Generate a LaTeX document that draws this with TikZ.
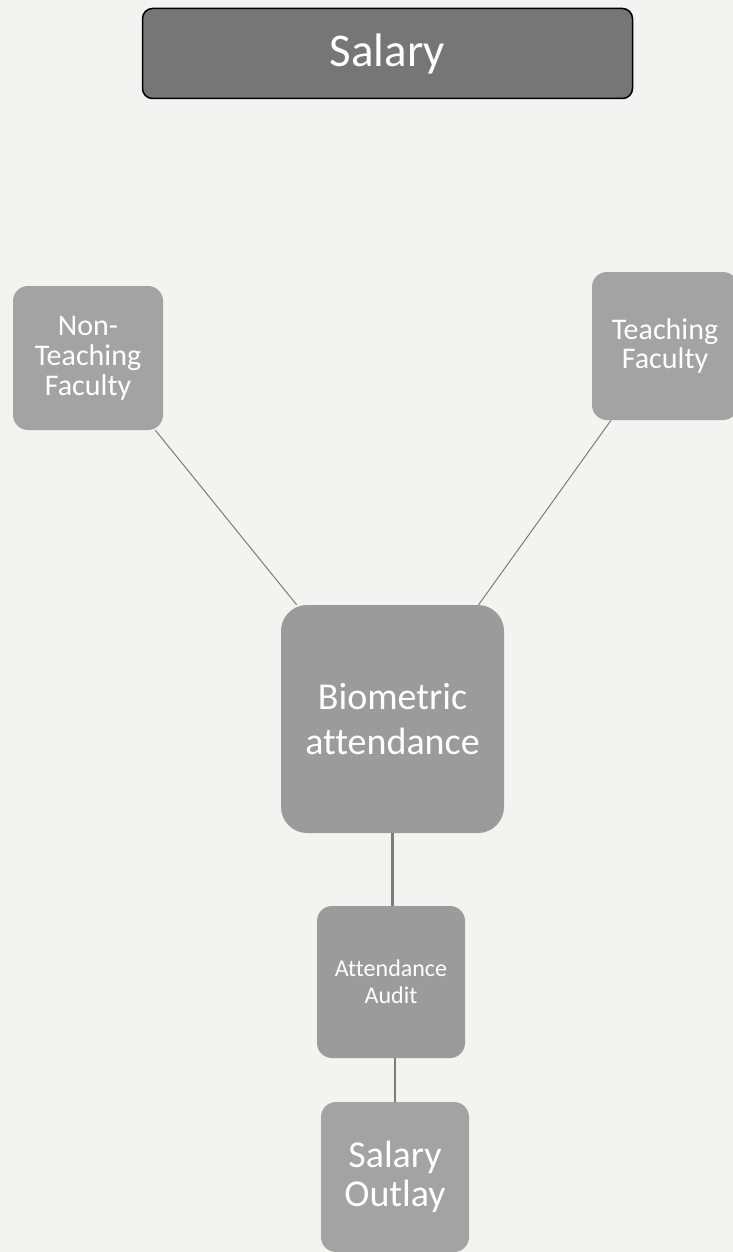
\documentclass[tikz,border=0pt]{standalone}
\usepackage{fontspec}
\setmainfont[Ligatures=NoCommon]{Carlito}
\usetikzlibrary{positioning}
\definecolor{paper}{HTML}{F3F3F1}
\definecolor{boxgray}{HTML}{A3A3A3}
\definecolor{darkbox}{HTML}{767676}
\definecolor{linegray}{HTML}{7C7C7C}

\begin{document}
\begin{tikzpicture}[x=1pt,y=-1pt,
  box/.style={fill=boxgray,rounded corners=15pt,inner sep=0pt,align=center,text=white},
  link/.style={draw=linegray,line width=1pt}]
\fill[paper] (0,0) rectangle (733,1252);
\useasboundingbox (0,0) rectangle (733,1252);
% top box
\node[box,fill=darkbox,draw=black,line width=1.5pt,rounded corners=10pt,
  minimum width=490pt,minimum height=90pt,font=\fontsize{47}{50}\selectfont] (salary) at (387.5,53.5) {Salary};
% staff
\node[box,minimum width=150pt,minimum height=144pt,font=\fontsize{30}{30}\selectfont] (ntf) at (88,358) {Non-\\Teaching\\Faculty};
\node[box,minimum width=146pt,minimum height=148pt,font=\fontsize{30}{29}\selectfont] (tf) at (665,346) {Teaching\\Faculty};
% chain
\node[box,fill=boxgray!95!black,rounded corners=26pt,minimum width=223pt,minimum height=228pt,font=\fontsize{38}{45}\selectfont] (bio) at (392.5,719) {Biometric\\attendance};
\node[box,fill=boxgray!95!black,minimum width=148pt,minimum height=152pt,font=\fontsize{24}{27}\selectfont] (audit) at (391,982) {Attendance\\Audit};
\node[box,minimum width=148pt,minimum height=150pt,font=\fontsize{38}{39}\selectfont] (outlay) at (395,1177) {Salary\\Outlay};
\draw[link] (ntf.-47) -- (bio.130);
\draw[link] (tf.234) -- (bio.53);
\draw[link,line width=2.5pt] (bio.south) -- (bio.south |- audit.north);
\draw[link,line width=1.2pt] (audit.south -| outlay.north) -- (outlay.north);
\end{tikzpicture}
\end{document}
